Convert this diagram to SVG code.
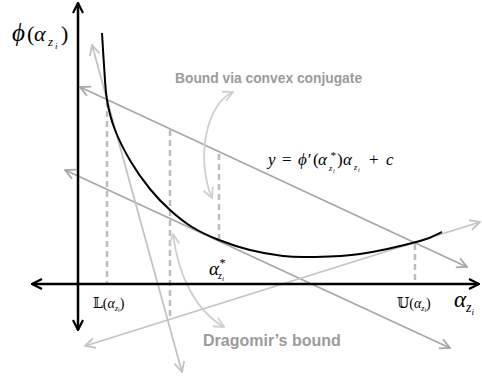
<svg xmlns="http://www.w3.org/2000/svg" width="482" height="379" viewBox="0 0 482 379">
<style>
.axis{stroke:#000;stroke-width:2.5;fill:none}
.curve{stroke:#000;stroke-width:2;fill:none}
.g1{stroke:#a8a8a8;stroke-width:1.8;fill:none}
.g2{stroke:#c4c4c4;stroke-width:1.8;fill:none}
.g3{stroke:#cfcfcf;stroke-width:1.8;fill:none}
.dash{stroke:#bdbdbd;stroke-width:2.5;stroke-dasharray:6 4;fill:none}
.math{font-family:"Liberation Serif","DejaVu Serif",serif;font-style:italic;fill:#000}
.up{font-style:normal}
.dbl{font-family:"DejaVu Serif","DejaVu Sans",serif;font-style:normal;fill:#000}
.lbl{font-family:"Liberation Sans",Arial,sans-serif;font-weight:bold;fill:#9b9b9b}
</style>
<defs>
<marker id="ak" viewBox="0 0 12 12" refX="11" refY="6" markerWidth="12" markerHeight="12" markerUnits="userSpaceOnUse" orient="auto-start-reverse"><path d="M1,1 L11,6 L1,11" fill="none" stroke="#000" stroke-width="2.2"/></marker>
<marker id="a1" viewBox="0 0 12 12" refX="11" refY="6" markerWidth="12" markerHeight="12" markerUnits="userSpaceOnUse" orient="auto-start-reverse"><path d="M1,1 L11,6 L1,11" fill="none" stroke="#a8a8a8" stroke-width="1.8"/></marker>
<marker id="a2" viewBox="0 0 12 12" refX="11" refY="6" markerWidth="12" markerHeight="12" markerUnits="userSpaceOnUse" orient="auto-start-reverse"><path d="M1,1 L11,6 L1,11" fill="none" stroke="#c4c4c4" stroke-width="1.8"/></marker>
<marker id="a3" viewBox="0 0 12 12" refX="11" refY="6" markerWidth="12" markerHeight="12" markerUnits="userSpaceOnUse" orient="auto-start-reverse"><path d="M1,1 L11,6 L1,11" fill="none" stroke="#cfcfcf" stroke-width="1.8"/></marker>
</defs>
<rect width="482" height="379" fill="#fff"/>
<g id="dashes">
<line class="dash" x1="107" y1="101" x2="107" y2="283"/>
<line class="dash" x1="170" y1="130" x2="170" y2="318"/>
<line class="dash" x1="219" y1="154" x2="219" y2="239"/>
<line class="dash" x1="415" y1="244" x2="415" y2="283"/>
</g>
<g id="connectors">
<line class="g1" x1="80" y1="87" x2="467" y2="267" marker-start="url(#a1)" marker-end="url(#a1)"/>
<line class="g1" x1="65" y1="170" x2="450" y2="348" marker-start="url(#a1)" marker-end="url(#a1)"/>
<line class="g2" x1="92" y1="45" x2="182" y2="372" marker-start="url(#a2)" marker-end="url(#a2)"/>
<line class="g2" x1="85" y1="346" x2="480" y2="222" marker-start="url(#a2)" marker-end="url(#a2)"/>
<path class="g3" d="M233,92 C205,105 196,160 212,198" marker-start="url(#a3)" marker-end="url(#a3)"/>
<path class="g3" d="M173,234 C178,275 195,310 224,327" marker-start="url(#a3)" marker-end="url(#a3)"/>
</g>
<g id="axes">
<line class="axis" x1="78" y1="330" x2="78" y2="3" marker-start="url(#ak)" marker-end="url(#ak)"/>
<line class="axis" x1="32" y1="284" x2="479" y2="284" marker-start="url(#ak)" marker-end="url(#ak)"/>
</g>
<g id="curve">
<path class="curve" d="M102,33 C102.3,38.3 103.2,53.8 104,65 C104.8,76.2 105.2,89.2 107,100 C108.8,110.8 111,119.7 115,130 C119,140.3 125.2,152.2 131,162 C136.8,171.8 143.5,181 150,189 C156.5,197 163,203.7 170,210 C177,216.3 183.8,222 192,227 C200.2,232 209.3,236.2 219,240 C228.7,243.8 239.3,247.3 250,250 C260.7,252.7 273,254.8 283,256 C293,257.2 297.2,257.3 310,257 C322.8,256.7 341.7,256.7 360,254 C378.3,251.3 406.3,244.7 420,241 C433.7,237.3 438.3,233.5 442,232"/>
</g>
<g id="labels">
<text class="math" font-size="22"><tspan font-size="25" x="12" y="41">ϕ</tspan><tspan class="up" x="27" y="41">(</tspan><tspan x="34" y="41">α</tspan><tspan font-size="13" x="48" y="46">z</tspan><tspan font-size="9" x="55" y="49">i</tspan><tspan class="up" x="61" y="41">)</tspan></text>
<text class="lbl" x="175" y="83" font-size="13.8">Bound via convex conjugate</text>
<text class="math" font-size="17"><tspan x="268" y="165">y</tspan><tspan class="up" x="282" y="165">=</tspan><tspan x="298" y="165">ϕ′</tspan><tspan class="up" x="313" y="165">(</tspan><tspan x="318" y="165">α</tspan><tspan font-size="11" x="330" y="159">*</tspan><tspan font-size="8" x="329" y="171">z</tspan><tspan font-size="6" x="333" y="173">i</tspan><tspan class="up" x="337" y="165">)</tspan><tspan x="343" y="165">α</tspan><tspan font-size="8" x="354" y="170">z</tspan><tspan font-size="6" x="358" y="172">i</tspan><tspan class="up" x="369" y="165">+</tspan><tspan x="386" y="165">c</tspan></text>
<text class="math" x="209" y="275" font-size="19">α<tspan font-size="12" dy="-8">*</tspan><tspan font-size="10" dx="-7" dy="12">z</tspan><tspan font-size="7" dy="2">i</tspan></text>
<text class="math" x="93" y="308" font-size="14"><tspan class="dbl">𝕃</tspan><tspan class="up">(</tspan>α<tspan font-size="8" dy="3">z</tspan><tspan font-size="6" dy="1">i</tspan><tspan class="up" font-size="14" dy="-4">)</tspan></text>
<text class="math" x="397" y="308" font-size="14"><tspan class="dbl">𝕌</tspan><tspan class="up">(</tspan>α<tspan font-size="8" dy="3">z</tspan><tspan font-size="6" dy="1">i</tspan><tspan class="up" font-size="14" dy="-4">)</tspan></text>
<text class="math" x="454" y="307" font-size="23">α<tspan font-size="14" dy="5">z</tspan><tspan font-size="9" dy="3">i</tspan></text>
<text class="lbl" x="203" y="346" font-size="16">Dragomir’s bound</text>
</g>
</svg>
